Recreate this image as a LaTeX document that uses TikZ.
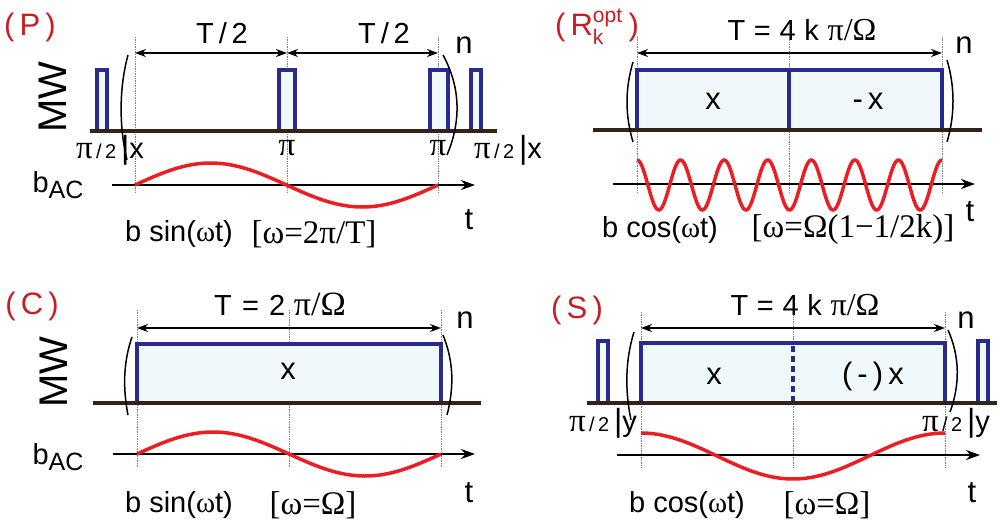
\documentclass[tikz,border=0pt]{standalone}
\usepackage{fontspec}
\setmainfont{Liberation Sans}
\newfontfamily\symf{Liberation Serif}
\usetikzlibrary{arrows.meta}
\definecolor{mwblue}{RGB}{40,42,140}
\definecolor{mwfill}{RGB}{240,248,252}
\definecolor{acred}{RGB}{235,30,35}
\definecolor{tagred}{RGB}{200,30,35}
\definecolor{basebrown}{RGB}{50,35,25}
\newcommand{\fsz}[1]{\fontsize{#1}{#1}\selectfont}
\newcommand{\bac}{b\raisebox{-0.35ex}{\fsz{25}AC}}
\newcommand{\halfpi}[1]{{\fsz{33}\symf π}{\fsz{20}\,/\,2}\,{\fsz{32}|}#1}

\begin{document}
\begin{tikzpicture}[x=1pt,y=-1pt,
    base/.style={line width=3.5pt, draw=basebrown},
    pulse/.style={line width=3.2pt, draw=mwblue, fill=mwfill},
    guide/.style={densely dotted, gray, line width=0.7pt},
    span/.style={{Stealth[length=11pt,width=8pt]}-{Stealth[length=11pt,width=8pt]}, line width=1.4pt},
    taxis/.style={-{Stealth[length=14pt,width=10pt]}, line width=1.8pt},
    wave/.style={line width=3.5pt, acred},
    paren/.style={line width=1.5pt},
    txt/.style={inner sep=0pt, font=\fsz{29}},
    frm/.style={inner sep=0pt, font=\fsz{33}\symf},
    tag/.style={inner sep=0pt, font=\fsz{31}, text=tagred},
    big/.style={inner sep=0pt, font=\fsz{29}},
    lab/.style={inner sep=0pt, font=\fsz{31}},
    mwlab/.style={inner sep=0pt, font=\fsz{40}, rotate=90}]
    \useasboundingbox (0,0) rectangle (1000,523);

    % (P) periodic pi pulses
    \node[tag] (P-tag) at (30,27) {(\,P\,)};
    \node[mwlab] (P-mw) at (53,97) {MW};
    \foreach \gx in {135,287,438} \draw[guide] (\gx,37) -- (\gx,192);
    \coordinate (P-a) at (135,53);
    \coordinate (P-b) at (287,53);
    \coordinate (P-c) at (438,53);
    \draw[span] (P-a) -- (P-b);
    \draw[span] (P-b) -- (P-c);
    \node[big] (P-t1) at (222,33) {T\,/\,2};
    \node[big] (P-t2) at (384,33) {T\,/\,2};
    \node[lab] (P-n) at (464,45) {n};
    \draw[pulse] (97,131) rectangle (107,70);
    \draw[pulse] (279,131) rectangle (295,70);
    \draw[pulse] (430,131) rectangle (448,70);
    \draw[pulse] (471,131) rectangle (481,70);
    \draw[base] (90,131) -- (497,131);
    \draw[paren] (128,55) .. controls (119,88) and (119,127) .. (127,160);
    \draw[paren] (443,55) .. controls (461,88) and (461,122) .. (447,155);
    \node[txt] (P-l1) at (110,150) {\halfpi{x}};
    \node[frm] (P-l2) at (287,148) {π};
    \node[frm] (P-l3) at (438,148) {π};
    \node[txt] (P-l4) at (508,150) {\halfpi{x}};
    \node[txt] (P-bac) at (58,185) {\bac};
    \coordinate (P-s) at (112,185);
    \coordinate (P-e) at (475,185);
    \draw[taxis] (P-s) -- (P-e);
    \draw[wave] plot[domain=135:438, samples=80] (\x,{185-22*sin((\x-135)/303*360)});
    \node[lab] (P-t) at (469,220) {t};
    \node[txt] (P-f1) at (179,234) {b sin({\symf ω}t)};
    \node[frm] (P-f2) at (314,234) {[ω=2π/T]};

    % (R) optimal sequence
    \node[tag] (R-tag) at (597,27) {(\,R\rlap{\raisebox{13pt}{\fsz{21}opt}}\raisebox{-9pt}{\fsz{21}k}\hspace{20pt}\,)};
    \foreach \gx in {637,789,942} \draw[guide] (\gx,37) -- (\gx,192);
    \coordinate (R-a) at (637,53);
    \coordinate (R-c) at (942,53);
    \draw[span] (R-a) -- (R-c);
    \node[big] (R-T) at (802,30) {T\hspace{0.3em}=\hspace{0.3em}4\hspace{0.3em}k\hspace{0.3em}{\fsz{32}\symf π/Ω}};
    \node[lab] (R-n) at (964,45) {n};
    \draw[pulse] (637,130) rectangle (789,70);
    \draw[pulse] (789,130) rectangle (942,70);
    \draw[base] (593,130) -- (982,130);
    \node[lab] (R-x1) at (713,101) {x};
    \node[lab] (R-x2) at (868,101) {-\,x};
    \draw[paren] (633,62) .. controls (625,89) and (625,115) .. (633,142);
    \draw[paren] (947,60) .. controls (955,87) and (955,115) .. (947,142);
    \coordinate (R-s) at (613,184);
    \coordinate (R-e) at (975,184);
    \draw[taxis] (R-s) -- (R-e);
    \draw[wave] plot[domain=637:942, samples=250] (\x,{185-25*cos((\x-637)/305*2520)});
    \node[lab] (R-t) at (970,212) {t};
    \node[txt] (R-f1) at (660,230) {b cos({\symf ω}t)};
    \node[frm] (R-f2) at (853,230) {[ω=Ω(1−1/2k)]};

    % (C) continuous driving
    \node[tag] (C-tag) at (32,306) {(\,C\,)};
    \node[mwlab] (C-mw) at (54,372) {MW};
    \foreach \gx in {137,289,441} \draw[guide] (\gx,310) -- (\gx,467);
    \coordinate (C-a) at (137,328);
    \coordinate (C-c) at (441,328);
    \draw[span] (C-a) -- (C-c);
    \node[big] (C-T) at (280,304) {T\hspace{0.35em}=\hspace{0.35em}2\hspace{0.3em}{\fsz{34}\symf π/Ω}};
    \node[lab] (C-n) at (465,320) {n};
    \draw[pulse] (137,403) rectangle (441,344);
    \draw[base] (93,403) -- (481,403);
    \node[lab] (C-x) at (288,371) {x};
    \draw[paren] (132,337) .. controls (123,363) and (123,389) .. (128,415);
    \draw[paren] (443,335) .. controls (454,362) and (454,388) .. (447,415);
    \node[txt] (C-bac) at (58,457) {\bac};
    \coordinate (C-s) at (113,454);
    \coordinate (C-e) at (475,454);
    \draw[taxis] (C-s) -- (C-e);
    \draw[wave] plot[domain=137:441, samples=80] (\x,{454-22*sin((\x-137)/304*360)});
    \node[lab] (C-t) at (469,493) {t};
    \node[txt] (C-f1) at (179,505) {b sin({\symf ω}t)};
    \node[frm] (C-f2) at (313,505) {[ω=Ω]};

    % (S) spin locking
    \node[tag] (S-tag) at (577,310) {(\,S\,)};
    \foreach \gx in {641,793,945} \draw[guide] (\gx,312) -- (\gx,467);
    \coordinate (S-a) at (641,328);
    \coordinate (S-c) at (945,328);
    \draw[span] (S-a) -- (S-c);
    \node[big] (S-T) at (805,305) {T\hspace{0.3em}=\hspace{0.3em}4\hspace{0.3em}k\hspace{0.3em}{\fsz{32}\symf π/Ω}};
    \node[lab] (S-n) at (966,320) {n};
    \draw[pulse] (598,403) rectangle (608,341);
    \draw[pulse] (641,403) rectangle (945,343);
    \draw[pulse] (978,403) rectangle (988,341);
    \draw[mwblue, line width=3.2pt, dash pattern=on 6pt off 4pt] (793,346) -- (793,401);
    \draw[base] (587,403) -- (997,403);
    \node[lab] (S-x1) at (714,376) {x};
    \node[lab] (S-x2) at (873,376) {(\,-\,)\,x};
    \draw[paren] (634,332) .. controls (625,361) and (625,391) .. (631,420);
    \draw[paren] (948,330) .. controls (960,357) and (960,385) .. (950,412);
    \node[txt] (S-l1) at (603,423) {\halfpi{y}};
    \node[txt] (S-l2) at (956,423) {\halfpi{y}};
    \coordinate (S-s) at (617,455);
    \coordinate (S-e) at (980,455);
    \draw[taxis] (S-s) -- (S-e);
    \draw[wave] plot[domain=641:945, samples=80] (\x,{456-23*cos((\x-641)/304*360)});
    \node[lab] (S-t) at (972,493) {t};
    \node[txt] (S-f1) at (687,505) {b cos({\symf ω}t)};
    \node[frm] (S-f2) at (827,505) {[ω=Ω]};
\end{tikzpicture}
\end{document}
